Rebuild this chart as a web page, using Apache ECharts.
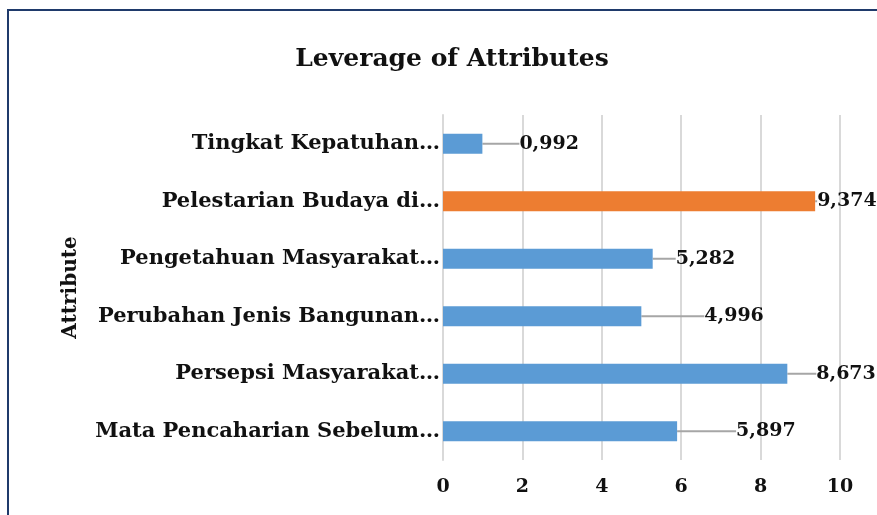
<!DOCTYPE html>
<html>
<head>
<meta charset="utf-8">
<script src="https://cdn.jsdelivr.net/npm/echarts@6/dist/echarts.min.js"></script>
<style>
html, body { margin: 0; padding: 0; background: #fff; }
#chart { width: 877px; height: 515px; }
</style>
</head>
<body>
<div id="chart"></div>
<script>
// data, top row first
var categories = [
	'Tingkat Kepatuhan…',
	'Pelestarian Budaya di…',
	'Pengetahuan Masyarakat…',
	'Perubahan Jenis Bangunan…',
	'Persepsi Masyarakat…',
	'Mata Pencaharian Sebelum…'
];
var values = [0.992, 9.374, 5.282, 4.996, 8.673, 5.897];
var highlightIndex = 1;
var xTicks = [0, 2, 4, 6, 8, 10];

// how far each callout sits right of its bar end (px)
var labelDx = [30, 0, 16, 56, 22, 52];

var fontFam = '"DejaVu Serif", serif';
var myChart = echarts.init(document.getElementById('chart'));

// category axis goes bottom -> top, so reverse
var cats = categories.slice().reverse();
var barData = values.slice().reverse().map(function(v, i) {
	var orig = categories.length - 1 - i;
	var item = {
		value: v,
		itemStyle: { color: orig == highlightIndex ? '#ED7D31' : '#5B9BD5' }
	};
	// no callout line on this one, text sits right on the bar end
	if(labelDx[orig] == 0) {
		item.label = { padding: [0, 0, 0, 1] };
	}
	return item;
});

var option = {
	backgroundColor: '#fff',
	animation: false,
	title: {
		text: 'Leverage of Attributes',
		left: 447,
		textAlign: 'center',
		top: 42,
		textStyle: { fontFamily: fontFam, fontSize: 25, fontWeight: 'bold', color: '#111' }
	},
	graphic: [{
		type: 'rect',
		shape: { x: 8, y: 10, width: 880, height: 520 },
		style: { fill: 'none', stroke: '#1F3A6B', lineWidth: 2 }
	}],
	grid: { left: 443, right: 37, top: 115, bottom: 55 },
	xAxis: {
		type: 'value',
		min: xTicks[0],
		max: xTicks[xTicks.length - 1],
		interval: 2,
		axisLine: { show: false },
		axisTick: { show: false },
		splitLine: { lineStyle: { color: '#d9d9d9', width: 2 } },
		axisLabel: { margin: 18, fontFamily: fontFam, fontSize: 19, fontWeight: 'bold', color: '#111' }
	},
	yAxis: {
		type: 'category',
		data: cats,
		name: 'Attribute',
		nameLocation: 'middle',
		nameGap: 362,
		nameTextStyle: { fontFamily: fontFam, fontSize: 20, fontWeight: 'bold', color: '#111' },
		axisLine: { show: true, lineStyle: { color: '#d9d9d9', width: 2 } },
		axisTick: { show: false },
		axisLabel: { margin: 3, fontFamily: fontFam, fontSize: 21, fontWeight: 'bold', color: '#111' }
	},
	series: [{
		type: 'bar',
		data: barData,
		barCategoryGap: '65%',
		label: {
			show: true,
			position: 'right',
			distance: 1,
			padding: [0, 0, 0, 6],
			fontFamily: fontFam,
			fontSize: 19,
			fontWeight: 'bold',
			color: '#111',
			formatter: function(p) {
				return p.value.toFixed(3).replace('.', ',');
			}
		},
		labelLine: { show: true, lineStyle: { color: '#a6a6a6', width: 2 } },
		labelLayout: function(p) {
			var orig = categories.length - 1 - p.dataIndex;
			return { dx: labelDx[orig] };
		}
	}]
};
myChart.setOption(option);
</script>
</body>
</html>
